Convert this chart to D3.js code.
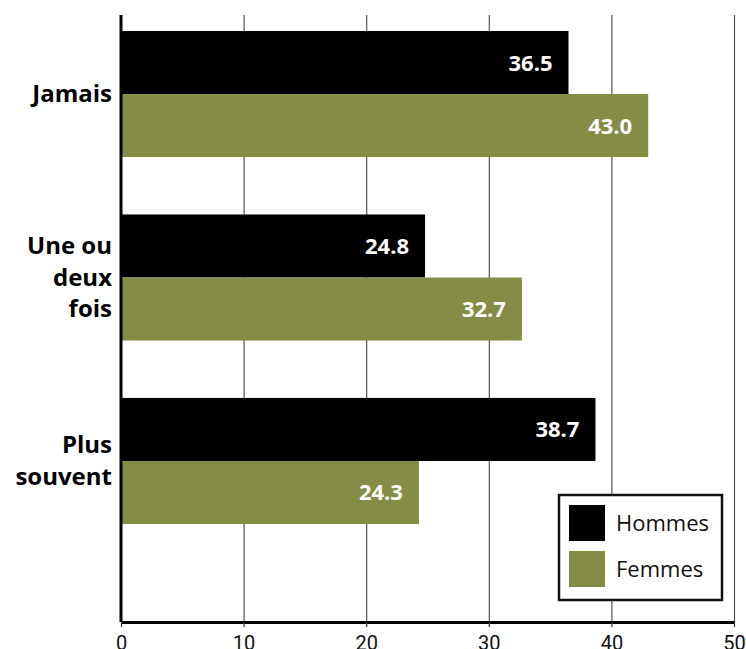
<!DOCTYPE html>
<html>
<head>
<meta charset="utf-8">
<script src="https://cdn.jsdelivr.net/npm/d3@7"></script>
<style>
  html, body { margin: 0; padding: 0; background: #fff; }
  svg { display: block; }
</style>
</head>
<body>
<svg id="chart" width="746" height="649"></svg>
<script>
const categories = ["Jamais", "Une ou deux fois", "Plus souvent"];
const categoryLines = [["Jamais"], ["Une ou", "deux", "fois"], ["Plus", "souvent"]];
const seriesNames = ["Hommes", "Femmes"];
const hommes = [36.5, 24.8, 38.7];
const femmes = [43.0, 32.7, 24.3];
const tickValues = [0, 10, 20, 30, 40, 50];
const colors = ["#000000", "#858C45"];

const svg = d3.select("#chart");
const plotTop = 15, plotBottom = 622, plotLeft = 121, plotRight = 734;

const x = d3.scaleLinear().domain([0, 50]).range([plotLeft, plotRight]);
const y = d3.scaleBand().domain(categories).range([31, 524]).paddingInner(0.313).paddingOuter(0);
const ySub = d3.scaleBand().domain(seriesNames).range([0, y.bandwidth()]).padding(0);

// gridlines
const grid = svg.append("g")
  .attr("transform", `translate(0,${plotBottom})`)
  .call(d3.axisBottom(x).tickValues(tickValues.slice(1)).tickSize(-(plotBottom - plotTop)).tickFormat(""));
grid.select(".domain").remove();
grid.selectAll("line").attr("stroke", "#555").attr("stroke-width", 1.2);

// bars
const data = categories.map((c, i) => ({cat: c, vals: [hommes[i], femmes[i]]}));
const groups = svg.append("g").selectAll("g").data(data).join("g")
  .attr("transform", d => `translate(0,${y(d.cat)})`);

groups.selectAll("rect").data(d => d.vals.map((v, j) => ({v, s: seriesNames[j], j})))
  .join("rect")
  .attr("x", x(0))
  .attr("y", d => ySub(d.s))
  .attr("width", d => x(d.v) - x(0))
  .attr("height", ySub.bandwidth())
  .attr("fill", d => colors[d.j]);

groups.selectAll("text").data(d => d.vals.map((v, j) => ({v, s: seriesNames[j], j})))
  .join("text")
  .attr("x", d => x(d.v) - 16)
  .attr("y", d => ySub(d.s) + ySub.bandwidth() / 2 + 8)
  .attr("text-anchor", "end")
  .attr("font-family", "'Open Sans', sans-serif")
  .attr("font-weight", "bold")
  .attr("font-size", 22)
  .attr("fill", "#fff")
  .text(d => d.v.toFixed(1));

// category labels
categories.forEach((c, i) => {
  const lines = categoryLines[i];
  const cy = y(c) + y.bandwidth() / 2;
  const lh = 31.5;
  const t = svg.append("text")
    .attr("text-anchor", "end")
    .attr("font-family", "'Open Sans', sans-serif")
    .attr("font-weight", "bold")
    .attr("font-size", 24)
    .attr("fill", "#000");
  lines.forEach((ln, k) => {
    t.append("tspan")
      .attr("x", 112)
      .attr("y", cy - (lines.length - 1) * lh / 2 + k * lh + 8)
      .text(ln);
  });
});

// left axis line
svg.append("line")
  .attr("x1", plotLeft).attr("x2", plotLeft)
  .attr("y1", plotTop).attr("y2", plotBottom)
  .attr("stroke", "#000").attr("stroke-width", 3);

// bottom axis
const xAxis = svg.append("g")
  .attr("transform", `translate(0,${plotBottom})`)
  .call(d3.axisBottom(x).tickValues(tickValues).tickSize(5).tickSizeOuter(0).tickPadding(9));
xAxis.select(".domain").attr("stroke", "#000").attr("stroke-width", 3);
xAxis.selectAll(".tick line").attr("stroke", "#333").attr("stroke-width", 1.2);
xAxis.selectAll(".tick text")
  .attr("font-family", "'Liberation Sans Narrow', 'Roboto', sans-serif")
  .attr("font-size", 20)
  .attr("fill", "#111");

// legend
const lg = svg.append("g");
lg.append("rect")
  .attr("x", 559).attr("y", 495).attr("width", 163).attr("height", 105)
  .attr("fill", "#fff").attr("stroke", "#111").attr("stroke-width", 2.5);
seriesNames.forEach((s, i) => {
  lg.append("rect")
    .attr("x", 569).attr("y", 505 + i * 46).attr("width", 36).attr("height", 36)
    .attr("fill", colors[i]);
  lg.append("text")
    .attr("x", 616).attr("y", 531 + i * 46)
    .attr("font-family", "'Open Sans', sans-serif")
    .attr("font-size", 22)
    .attr("fill", "#111")
    .text(s);
});
</script>
</body>
</html>
